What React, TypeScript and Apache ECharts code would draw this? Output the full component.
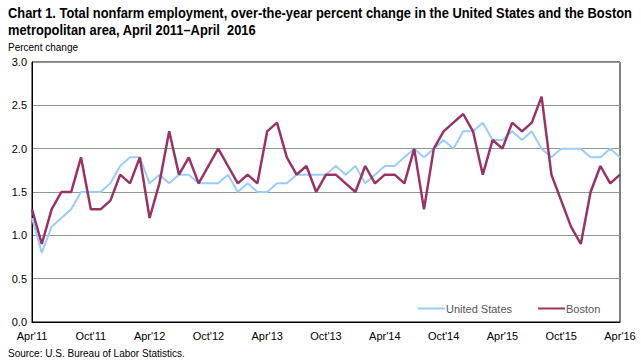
import React, { useEffect, useRef } from "react";
import * as echarts from "echarts";

const months = [
  "Apr'11","May'11","Jun'11","Jul'11","Aug'11","Sep'11","Oct'11","Nov'11","Dec'11","Jan'12","Feb'12","Mar'12",
  "Apr'12","May'12","Jun'12","Jul'12","Aug'12","Sep'12","Oct'12","Nov'12","Dec'12","Jan'13","Feb'13","Mar'13",
  "Apr'13","May'13","Jun'13","Jul'13","Aug'13","Sep'13","Oct'13","Nov'13","Dec'13","Jan'14","Feb'14","Mar'14",
  "Apr'14","May'14","Jun'14","Jul'14","Aug'14","Sep'14","Oct'14","Nov'14","Dec'14","Jan'15","Feb'15","Mar'15",
  "Apr'15","May'15","Jun'15","Jul'15","Aug'15","Sep'15","Oct'15","Nov'15","Dec'15","Jan'16","Feb'16","Mar'16",
  "Apr'16",
];

const unitedStates = [
  1.2, 0.8, 1.1, 1.2, 1.3, 1.5, 1.5, 1.5, 1.6, 1.8, 1.9, 1.9,
  1.6, 1.7, 1.6, 1.7, 1.7, 1.6, 1.6, 1.6, 1.7, 1.5, 1.6, 1.5,
  1.5, 1.6, 1.6, 1.7, 1.7, 1.7, 1.7, 1.8, 1.7, 1.8, 1.6, 1.7,
  1.8, 1.8, 1.9, 2.0, 1.9, 2.0, 2.1, 2.0, 2.2, 2.2, 2.3, 2.1,
  2.1, 2.2, 2.1, 2.2, 2.0, 1.9, 2.0, 2.0, 2.0, 1.9, 1.9, 2.0,
  1.9,
];

const boston = [
  1.3, 0.9, 1.3, 1.5, 1.5, 1.9, 1.3, 1.3, 1.4, 1.7, 1.6, 1.9,
  1.2, 1.6, 2.2, 1.7, 1.9, 1.6, 1.8, 2.0, 1.8, 1.6, 1.7, 1.6,
  2.2, 2.3, 1.9, 1.7, 1.8, 1.5, 1.7, 1.7, 1.6, 1.5, 1.8, 1.6,
  1.7, 1.7, 1.6, 2.0, 1.3, 2.0, 2.2, 2.3, 2.4, 2.2, 1.7, 2.1,
  2.0, 2.3, 2.2, 2.3, 2.6, 1.7, 1.4, 1.1, 0.9, 1.5, 1.8, 1.6,
  1.7,
];

const titleText =
  "Chart 1. Total nonfarm employment, over-the-year percent change in the United States and the Boston\nmetropolitan area, April 2011\u2013April  2016";
const yAxisName = "Percent change";
const sourceText = "Source: U.S. Bureau of Labor Statistics.";

const FONT = "'Liberation Sans', Arial, sans-serif";

export default function App() {
  const ref = useRef<HTMLDivElement>(null);
  useEffect(() => {
    if (!ref.current) return;
    const chart = echarts.init(ref.current, undefined, { renderer: "svg" });
    chart.setOption({
      animation: false,
      backgroundColor: "#fff",
      textStyle: { fontFamily: FONT },
      graphic: [
        {
          type: "text",
          left: 8,
          top: 5,
          scaleX: 0.92,
          style: {
            text: titleText,
            fontFamily: FONT,
            fontSize: 14,
            fontWeight: "bold",
            lineHeight: 17,
            fill: "#000",
          },
        },
        {
          type: "text",
          left: 8,
          top: 42,
          style: { text: yAxisName, fontFamily: FONT, fontSize: 10, fill: "#000" },
        },
        {
          type: "text",
          left: 8,
          top: 348,
          style: { text: sourceText, fontFamily: FONT, fontSize: 10, fill: "#000" },
        },
      ],
      legend: {
        left: 413,
        top: 298,
        icon: "rect",
        itemWidth: 27,
        itemHeight: 2,
        itemGap: 26,
        textStyle: { fontFamily: FONT, fontSize: 11, color: "#555", padding: [0, 0, 0, -4] },
        data: ["United States", "Boston"],
      },
      grid: {
        left: 32,
        right: 21,
        top: 62,
        bottom: 40,
        show: true,
        borderColor: "#000",
        borderWidth: 1,
        backgroundColor: "transparent",
      },
      xAxis: {
        type: "category",
        data: months,
        boundaryGap: false,
        axisLine: { show: true, lineStyle: { color: "#000", width: 1 } },
        axisTick: { show: false },
        axisLabel: {
          interval: 5,
          color: "#000",
          fontFamily: FONT,
          fontSize: 11,
          margin: 8,
          showMaxLabel: true,
        },
        splitLine: { show: false },
      },
      yAxis: {
        type: "value",
        min: 0,
        max: 3,
        interval: 0.5,
        axisLine: { show: true, lineStyle: { color: "#000", width: 1 } },
        axisTick: { show: false },
        axisLabel: {
          color: "#000",
          fontFamily: FONT,
          fontSize: 11,
          margin: 5,
          formatter: (v: number) => v.toFixed(1),
        },
        splitLine: { show: true, lineStyle: { color: "#8c9c8c", width: 1 } },
      },
      series: [
        {
          name: "United States",
          type: "line",
          data: unitedStates,
          symbol: "none",
          color: "#99CCFF",
          lineStyle: { color: "#99CCFF", width: 2 },
        },
        {
          name: "Boston",
          type: "line",
          data: boston,
          symbol: "none",
          color: "#993366",
          lineStyle: { color: "#993366", width: 2.5 },
        },
      ],
    });
    return () => chart.dispose();
  }, []);
  return <div ref={ref} style={{ width: 641, height: 362, position: "absolute", left: 0, top: 0 }} />;
}
